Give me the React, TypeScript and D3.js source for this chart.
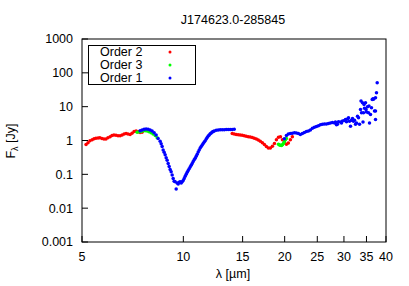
import * as d3 from "d3";
import { useEffect, useRef } from "react";

const title = "J174623.0-285845";

// Order 2 (red), short-wavelength part and the 14-21 um part
const order2Wave = [
    5.14, 5.21, 5.28, 5.36, 5.43, 5.5, 5.58, 5.65, 5.73, 5.81, 5.89, 5.97, 6.06, 6.14, 6.22, 6.31, 6.4, 6.49, 6.58, 6.67,
    6.76, 6.85, 6.95, 7.04, 7.14, 7.24, 7.34, 7.44, 7.54,
    13.97, 14.16, 14.36, 14.56, 14.76, 14.96, 15.17, 15.38, 15.6, 15.81, 16.03, 16.25, 16.48, 16.7, 16.93, 17.17, 17.41,
    17.65, 17.89, 18.14, 18.39, 18.65, 18.9, 19.17, 19.43, 19.7, 19.96, 20.24, 20.51, 20.8, 21.08,
];
const order2Flux = [
    0.76, 0.86, 0.98, 1.06, 1.12, 1.16, 1.18, 1.2, 1.15, 1.1, 1.1, 1.2, 1.3, 1.4, 1.45, 1.42, 1.38, 1.37, 1.45, 1.55,
    1.6, 1.55, 1.5, 1.65, 1.85, 1.9, 1.8, 1.72, 1.75,
    1.6, 1.55, 1.5, 1.48, 1.45, 1.42, 1.38, 1.34, 1.3, 1.27, 1.22, 1.17, 1.1, 1.03, 0.95, 0.86, 0.76,
    0.67, 0.6, 0.6, 0.68, 0.82, 1.05, 1.25, 1.28, 1.05, 0.9, 0.78, 0.85, 1.05, 1.3,
];

// Order 3 (green)
const order3Wave = [
    7.29, 7.39, 7.49, 7.6, 7.7, 7.81, 7.91, 8.02, 8.13, 8.25, 8.36,
    19.17, 19.3, 19.43, 19.56, 19.7, 19.83, 19.96, 20.1, 20.24,
];
const order3Flux = [
    1.75, 1.8, 1.85, 1.95, 1.95, 1.9, 1.8, 1.7, 1.55, 1.4, 1.2,
    0.78, 0.74, 0.72, 0.71, 0.75, 0.82, 0.92, 1.05, 1.15,
];

// Order 1 (blue)
const order1Wave = [
    7.44, 7.543, 7.647, 7.753, 7.86, 7.968, 8.078, 8.19, 8.303, 8.417, 8.533, 8.592, 8.651, 8.71, 8.77, 8.83, 8.891,
    8.952, 9.014, 9.076, 9.138, 9.201, 9.264, 9.328, 9.392, 9.457, 9.522, 9.587, 9.653, 9.719, 9.786, 9.853, 9.921,
    9.989, 10.058, 10.127, 10.197, 10.267, 10.337, 10.408, 10.48, 10.552, 10.625, 10.698, 10.771, 10.845, 10.92,
    10.995, 11.071, 11.147, 11.224, 11.301, 11.379, 11.457, 11.536, 11.615, 11.695, 11.775, 11.856, 11.938, 12.02,
    12.103, 12.186, 12.27, 12.354, 12.524, 12.697, 12.872, 13.049, 13.228, 13.41, 13.595, 13.782, 13.972, 14.164,
    19.96, 20.24, 20.51, 20.8, 21.08, 21.38, 21.67, 21.97, 22.27, 22.58, 22.89, 23.21, 23.53, 23.85, 24.18, 24.52,
    24.86, 25.2, 25.54, 25.9, 26.25, 26.62, 26.98, 27.35, 27.73, 28.12, 28.31, 28.51, 28.7, 28.9, 29.3, 29.5, 29.7,
    30.11, 30.32, 30.53, 30.74, 30.95, 31.16, 31.38, 31.59, 31.81, 32.03, 32.25, 32.47, 32.69, 32.92, 33.14, 33.37,
    33.6, 33.72, 33.83, 34.06, 34.18, 34.3, 34.42, 34.53, 34.77, 34.89, 35.01, 35.25, 35.49, 35.61, 35.73, 35.98,
    36.22, 36.4, 36.6, 36.72, 36.97, 37.23, 37.23, 37.23, 37.48, 37.66,
];
const order1Flux = [
    1.95, 2.05, 2.15, 2.2, 2.15, 2.05, 1.9, 1.7, 1.45, 1.15, 0.95, 0.8, 0.66, 0.52, 0.45, 0.38, 0.31,
    0.26, 0.21, 0.17, 0.14, 0.12, 0.095, 0.075, 0.062, 0.06, 0.037, 0.055, 0.052, 0.058, 0.06, 0.055, 0.06,
    0.066, 0.075, 0.088, 0.1, 0.115, 0.13, 0.145, 0.165, 0.185, 0.21, 0.24, 0.27, 0.3, 0.34,
    0.39, 0.46, 0.52, 0.6, 0.66, 0.73, 0.82, 0.9, 0.98, 1.1, 1.22, 1.35, 1.45, 1.58,
    1.68, 1.78, 1.85, 1.92, 2.0, 2.05, 2.07, 2.07, 2.08, 2.1, 2.1, 2.12, 2.12, 2.15,
    1.12, 1.4, 1.55, 1.6, 1.65, 1.7, 1.68, 1.6, 1.5, 1.6, 1.72, 1.85, 1.9, 2.05, 2.3, 2.45,
    2.6, 2.75, 2.9, 3.0, 3.1, 3.1, 3.2, 3.3, 3.4, 3.3, 3.5, 2.9, 3.0, 3.6, 3.5, 3.3, 3.8,
    3.9, 4.2, 3.6, 4.3, 4.7, 3.7, 2.65, 4.0, 4.5, 3.7, 4.0, 3.0, 3.3, 5.2, 4.7, 3.0,
    8.3, 14.6, 6.6, 13, 3.5, 6.6, 11.6, 9.0, 13, 8.3, 7.0, 10, 6.6, 10.4, 3.3, 5.9,
    9.3, 16.3, 17, 16.5, 7.4, 18.3, 7.4, 4.2, 25.7, 51,
];

const series = [
    { name: "Order 2", color: "#ff0000", wave: order2Wave, flux: order2Flux },
    { name: "Order 3", color: "#00ff00", wave: order3Wave, flux: order3Flux },
    { name: "Order 1", color: "#0000ff", wave: order1Wave, flux: order1Flux },
];

const xTicks = [5, 10, 15, 20, 25, 30, 35, 40];
const yTicks = [0.001, 0.01, 0.1, 1, 10, 100, 1000];

const App = () => {
    const svgRef = useRef<SVGSVGElement>(null);
    const svgWidth = 409;
    const svgHeight = 286;
    const left = 82;
    const right = 386;
    const top = 39;
    const bottom = 242;
    const font = "Liberation Sans, Arial, sans-serif";

    useEffect(() => {
        if (svgRef.current) {
            drawChart();
        }
    }, [svgRef]);

    const drawChart = () => {
        const svg = d3.select(svgRef.current);
        svg.selectAll("*").remove();

        var scaleX = d3.scaleLog().domain([5, 40]).range([left, right]);
        var scaleY = d3.scaleLog().domain([0.001, 1000]).range([bottom, top]);

        // frame
        svg.append("rect")
            .attr("x", left)
            .attr("y", top)
            .attr("width", right - left)
            .attr("height", bottom - top)
            .attr("fill", "none")
            .attr("stroke", "#000")
            .attr("stroke-width", 1);

        // y ticks, pointing inward
        const yAxis = svg.append("g").attr("font-family", font).attr("font-size", 12.5);
        yTicks.forEach((t) => {
            yAxis.append("line")
                .attr("x1", left)
                .attr("x2", left + 6)
                .attr("y1", scaleY(t))
                .attr("y2", scaleY(t))
                .attr("stroke", "#000");
            yAxis.append("text")
                .attr("x", left - 9)
                .attr("y", scaleY(t))
                .attr("dy", "0.35em")
                .attr("text-anchor", "end")
                .text(`${t}`);
        });

        // x ticks
        const xAxis = svg.append("g").attr("font-family", font).attr("font-size", 12.5);
        xTicks.forEach((t) => {
            xAxis.append("line")
                .attr("x1", scaleX(t))
                .attr("x2", scaleX(t))
                .attr("y1", bottom)
                .attr("y2", bottom - 6)
                .attr("stroke", "#000");
            xAxis.append("text")
                .attr("x", scaleX(t))
                .attr("y", 261)
                .attr("text-anchor", "middle")
                .text(`${t}`);
        });

        // data points
        series.forEach((s) => {
            svg.append("g")
                .selectAll("circle")
                .data(s.wave.map((w, i) => [w, s.flux[i]]))
                .enter()
                .append("circle")
                .attr("cx", (d: number[]) => scaleX(d[0]))
                .attr("cy", (d: number[]) => scaleY(d[1]))
                .attr("r", 1.75)
                .attr("fill", s.color);
        });

        // legend
        const legend = svg.append("g").attr("font-family", font).attr("font-size", 12.5);
        legend.append("rect")
            .attr("x", 88.5)
            .attr("y", 45.5)
            .attr("width", 107)
            .attr("height", 39)
            .attr("fill", "#fff")
            .attr("stroke", "#000");
        series.forEach((s, i) => {
            legend.append("text")
                .attr("x", 100)
                .attr("y", 56 + i * 13)
                .text(s.name);
            legend.append("circle")
                .attr("cx", 170)
                .attr("cy", 52 + i * 13)
                .attr("r", 1.5)
                .attr("fill", s.color);
        });

        // title and axis labels
        svg.append("text")
            .attr("x", 233)
            .attr("y", 24)
            .attr("text-anchor", "middle")
            .attr("font-family", font)
            .attr("font-size", 12.5)
            .text(title);

        svg.append("text")
            .attr("x", 233)
            .attr("y", 278)
            .attr("text-anchor", "middle")
            .attr("font-family", font)
            .attr("font-size", 12.5)
            .text("λ [µm]");

        const yLabel = svg.append("text")
            .attr("transform", "translate(15,141) rotate(-90)")
            .attr("text-anchor", "middle")
            .attr("font-family", font)
            .attr("font-size", 12.5);
        yLabel.append("tspan").text("F");
        yLabel.append("tspan").attr("dy", 3).attr("font-size", 9).text("λ");
        yLabel.append("tspan").attr("dy", -3).text(" [Jy]");
    };

    return (
        <svg
            ref={svgRef}
            width={svgWidth}
            height={svgHeight}
            style={{ position: "absolute", left: 0, top: 0, background: "#fff" }}
        />
    );
};

export default App;
